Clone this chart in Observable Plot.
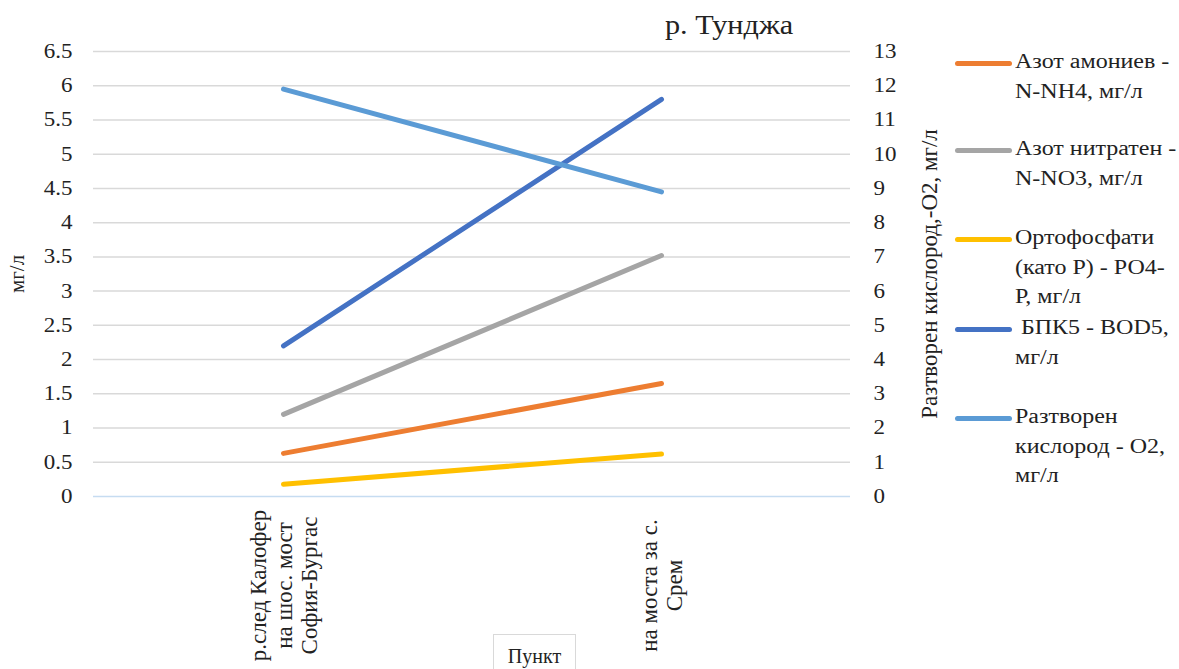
<!DOCTYPE html>
<html>
<head>
<meta charset="utf-8">
<script src="https://cdn.jsdelivr.net/npm/d3@7"></script>
<script src="https://cdn.jsdelivr.net/npm/@observablehq/plot@0.6"></script>
<style>
  html, body { margin: 0; padding: 0; background: #fff; }
  #wrap { position: relative; width: 1179px; height: 669px; overflow: hidden;
          font-family: "Liberation Serif", "Times New Roman", Times, serif; color: #222; }
  #chart { position: absolute; left: 0; top: 0; }
  #title { position: absolute; left: 665px; top: 10px; font-size: 27px;
           transform: scaleX(1.12); transform-origin: 0 0; white-space: nowrap; }
  #xtitle { position: absolute; left: 493px; top: 634px; width: 83px; height: 40px;
            border: 1.5px solid #d9d9d9; box-sizing: border-box; font-size: 20px;
            text-align: center; line-height: 42px; background: #fff; }
  #legend { position: absolute; left: 955px; top: 0; }
  .item { position: absolute; left: 0; width: 224px; }
  .swatch { position: absolute; left: 0; width: 57px; height: 5px; border-radius: 3px; }
  .lab { position: absolute; left: 60px; font-size: 20px; line-height: 29.5px; white-space: nowrap;
         transform: scaleX(1.2); transform-origin: 0 0; }
</style>
</head>
<body>
<div id="wrap">
  <div id="chart"></div>
  <div id="title"></div>
  <div id="xtitle"></div>
  <div id="legend"></div>
</div>
<script>
// Monitoring points along the river
const points = ["р.след Калофер\nна шос. мост\nСофия-Бургас", "на моста за с.\nСрем"];

// Measured values, mg/l
const nh4 = [0.63, 1.65];   // ammonium nitrogen
const no3 = [1.2, 3.52];    // nitrate nitrogen
const po4 = [0.18, 0.62];   // orthophosphates as P
const bod5 = [2.2, 5.8];    // BOD5
const o2 = [11.9, 8.9];     // dissolved oxygen (right axis)

const seriesNames = [
  "Азот амониев - N-NH4,  мг/л",
  "Азот нитратен - N-NO3, мг/л",
  "Ортофосфати (като Р) - РО4-Р, мг/л",
  " БПК5 - BOD5, мг/л",
  "Разтворен кислород - О2, мг/л"
];
const legendLines = [
  ["Азот амониев -", "N-NH4,  мг/л"],
  ["Азот нитратен -", "N-NO3, мг/л"],
  ["Ортофосфати", "(като Р) - РО4-", "Р, мг/л"],
  ["\u00a0БПК5 - BOD5,", "мг/л"],
  ["Разтворен", "кислород - О2,", "мг/л"]
];
const colors = ["#ED7D31", "#A5A5A5", "#FFC000", "#4472C4", "#5B9BD5"];

const leftTicks = [0, 0.5, 1, 1.5, 2, 2.5, 3, 3.5, 4, 4.5, 5, 5.5, 6, 6.5];
const rightTicks = [0, 1, 2, 3, 4, 5, 6, 7, 8, 9, 10, 11, 12, 13];

const titleText = "р. Тунджа";
const xTitle = "Пункт";
const leftLabel = "мг/л";
const rightLabel = "Разтворен кислород,-О2, мг/л";

// Right axis runs 0–13 over the same height as the left 0–6.5
const ratio = 2;

const values = [nh4, no3, po4, bod5, o2];
const rows = [];
values.forEach((arr, s) => {
  arr.forEach((v, i) => {
    rows.push({ series: seriesNames[s], point: points[i], y: s === 4 ? v / ratio : v });
  });
});

const font = "'Liberation Serif', 'Times New Roman', Times, serif";

const chart = Plot.plot({
  width: 955,
  height: 669,
  marginLeft: 93,
  marginRight: 105,
  marginTop: 51,
  marginBottom: 173,
  style: { fontFamily: font, fontSize: "20px", color: "#222", background: "transparent" },
  x: { type: "point", domain: points, padding: 0.5, axis: null },
  y: { domain: [0, 6.5], axis: null },
  color: { domain: seriesNames, range: colors },
  marks: [
    Plot.ruleY(leftTicks.slice(1), { stroke: "#d9d9d9", strokeWidth: 1.5 }),
    Plot.ruleY([0], { stroke: "#c6dcf1", strokeWidth: 1.5 }),
    Plot.axisY({ anchor: "left", ticks: leftTicks, tickSize: 0, tickPadding: 21,
                 tickFormat: d => String(d), fontSize: 20,
                 label: leftLabel, labelAnchor: "center", labelArrow: "none", labelOffset: 84 }),
    Plot.axisY({ anchor: "right", ticks: rightTicks.map(d => d / ratio), tickSize: 0, tickPadding: 23,
                 tickFormat: d => String(Math.round(d * ratio)), fontSize: 20,
                 label: rightLabel, labelAnchor: "center", labelArrow: "none", labelOffset: 86 }),
    Plot.line(rows, { x: "point", y: "y", z: "series", stroke: "series",
                      strokeWidth: 5, strokeLinecap: "round" }),
    Plot.text(points, { x: d => d, frameAnchor: "bottom", rotate: -90, dy: 89,
                        textAnchor: "middle", lineAnchor: "middle", lineHeight: 1.09,
                        fontSize: 23, fill: "#222" })
  ]
});
document.getElementById("chart").appendChild(chart);

// Slightly wider tick numerals
chart.querySelectorAll('g[aria-label="y-axis tick label"] text').forEach(t => {
  const w = t.getComputedTextLength();
  t.setAttribute("textLength", (w * 1.15).toFixed(1));
  t.setAttribute("lengthAdjust", "spacingAndGlyphs");
});
// Axis titles a little larger than the tick numerals
chart.querySelectorAll('g[aria-label="y-axis label"]').forEach((g, i) => {
  g.setAttribute("font-size", i === 0 ? "21" : "23");
});

document.getElementById("title").textContent = titleText;
document.getElementById("xtitle").textContent = xTitle;

// Legend to the right of the plot
const legendTops = [63, 150, 239, 329, 418];
const legend = document.getElementById("legend");
legendLines.forEach((lines, i) => {
  const item = document.createElement("div");
  item.className = "item";
  item.style.top = legendTops[i] + "px";
  const sw = document.createElement("div");
  sw.className = "swatch";
  sw.style.background = colors[i];
  sw.style.top = "-2.5px";
  item.appendChild(sw);
  const lab = document.createElement("div");
  lab.className = "lab";
  lab.style.top = "-16px";
  lab.innerHTML = lines.map(t => t.replace(/&/g, "&amp;").replace(/</g, "&lt;")).join("<br>");
  item.appendChild(lab);
  legend.appendChild(item);
});
</script>
</body>
</html>
